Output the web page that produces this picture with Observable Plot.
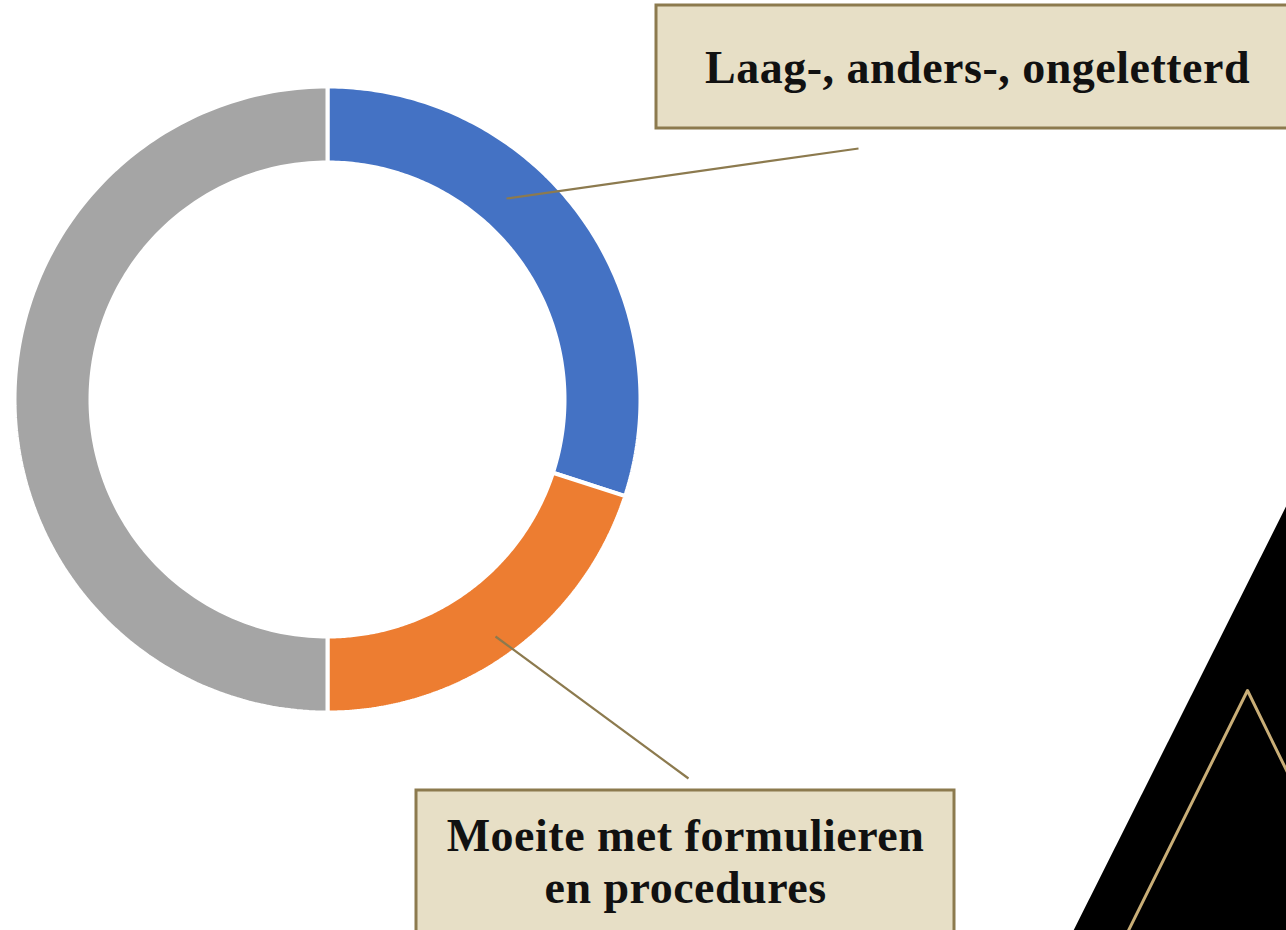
<!DOCTYPE html>
<html><head><meta charset="utf-8">
<script src="https://cdn.jsdelivr.net/npm/d3@7"></script>
<script src="https://cdn.jsdelivr.net/npm/@observablehq/plot@0.6"></script>
<style>html,body{margin:0;padding:0;background:#fff;overflow:hidden}svg{overflow:hidden}</style>
</head><body><div id="chart"></div>
<script>
// ---- data ----
const categories = ["Laag-, anders-, ongeletterd", "Moeite met formulieren en procedures", "Overig"];
const values = [30, 20, 50];
const colors = ["#4472C4", "#ED7D31", "#A5A5A5"];
const calloutLabels = ["Laag-, anders-, ongeletterd", "Moeite met formulieren\nen procedures"];

// ---- layout ----
const W = 1286, H = 930;
const cx = 327, cy = 399, R = 313, r = 237;
const leader = [
  {x1: 506, y1: 198, x2: 858, y2: 148},
  {x1: 495, y1: 636, x2: 688, y2: 778}
];
const boxes = [
  {x1: 656, x2: 1310, y1: 5, y2: 128},
  {x1: 416, x2: 954, y1: 790, y2: 960}
];
const labelPos = [
  {x: 977, y: 82},
  {x: 685, y: 902}
];

const arcs = d3.pie().sort(null).value(d => d.value)(categories.map((c, i) => ({cat: c, value: values[i]})));
const poly = [];
arcs.forEach(a => {
  const n = 160, cat = a.data.cat;
  for (let k = 0; k <= n; k++) {
    const t = a.startAngle + (a.endAngle - a.startAngle) * k / n;
    poly.push({cat, x: cx + R * Math.sin(t), y: cy - R * Math.cos(t)});
  }
  for (let k = n; k >= 0; k--) {
    const t = a.startAngle + (a.endAngle - a.startAngle) * k / n;
    poly.push({cat, x: cx + r * Math.sin(t), y: cy - r * Math.cos(t)});
  }
  const t0 = a.startAngle;
  poly.push({cat, x: cx + R * Math.sin(t0), y: cy - R * Math.cos(t0)});
});

const triangle = [{x: 1072, y: 932}, {x: 1290, y: 497}, {x: 1290, y: 932}];
const goldLine = [{x: 1126, y: 934}, {x: 1247, y: 690}, {x: 1290, y: 778}];

const labels = calloutLabels.map((t, i) => ({text: t, ...labelPos[i]}));

const chart = Plot.plot({
  width: W, height: H,
  margin: 0,
  x: {type: "identity", axis: null},
  y: {type: "identity", axis: null},
  color: {domain: categories, range: colors},
  style: {background: "#fff", overflow: "hidden"},
  marks: [
    Plot.line(poly, {x: "x", y: "y", z: "cat", fill: "cat", stroke: "white", strokeWidth: 4, curve: "linear", strokeLinejoin: "miter"}),
    Plot.link(leader, {x1: "x1", y1: "y1", x2: "x2", y2: "y2", stroke: "#8C7A4E", strokeWidth: 2.2}),
    Plot.rect(boxes, {x1: "x1", x2: "x2", y1: "y1", y2: "y2", fill: "#E7DFC6", stroke: "#8C7A4E", strokeWidth: 3}),
    Plot.text(labels, {x: "x", y: "y", text: "text", lineAnchor: "bottom", lineHeight: 1.13, fontSize: 46, fontWeight: "bold", fontFamily: "Liberation Serif", fill: "#111", style: "letter-spacing:0.5px"}),
    Plot.line(triangle, {x: "x", y: "y", fill: "black", stroke: "none"}),
    Plot.line(goldLine, {x: "x", y: "y", stroke: "#C9AE77", strokeWidth: 3})
  ]
});
chart.querySelectorAll("text").forEach(t => t.style.letterSpacing = "0.5px");
document.getElementById("chart").appendChild(chart);
</script></body></html>
